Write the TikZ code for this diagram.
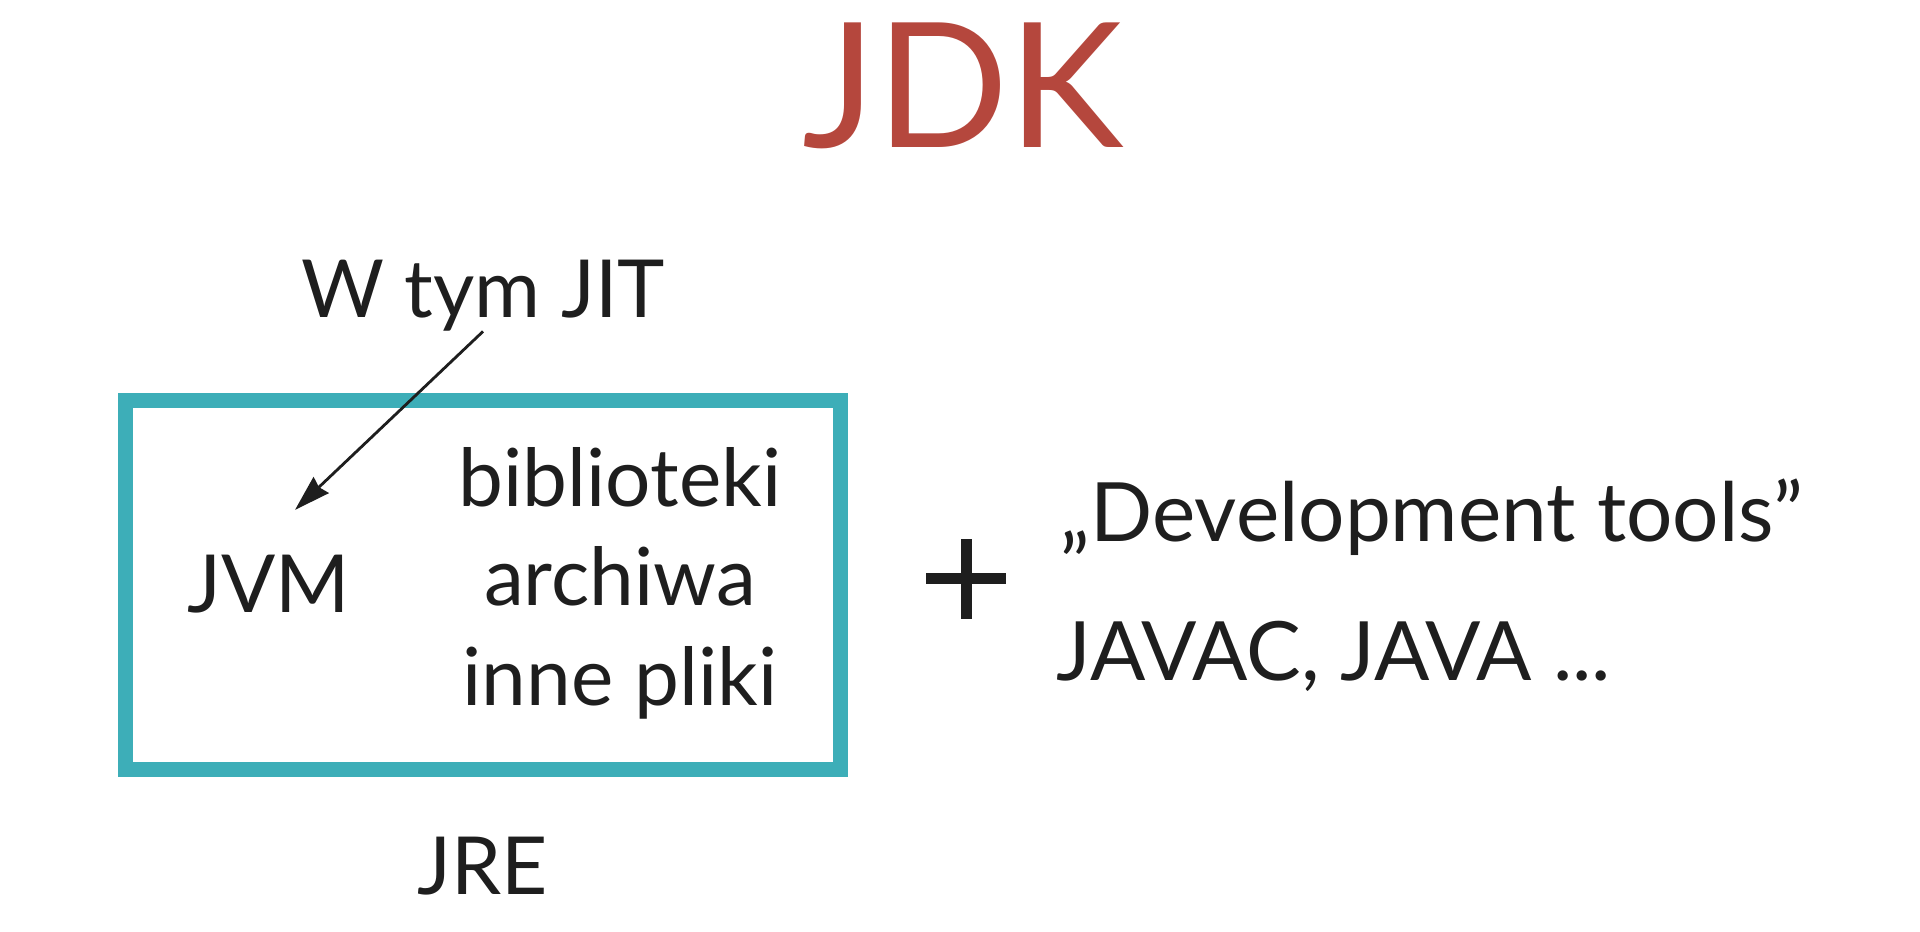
\documentclass[tikz,border=0pt]{standalone}
\usepackage{fontspec}
\setmainfont{Lato}
\usepackage{xcolor}
\usetikzlibrary{arrows.meta, positioning}
\definecolor{jdkred}{RGB}{181,71,61}
\definecolor{jreteal}{RGB}{61,174,184}
\definecolor{ink}{RGB}{30,30,30}
\tikzset{
  lbl/.style={font=\fontsize{22.8}{27}\selectfont, text=ink, inner sep=0pt},
  tool/.style={font=\fontsize{23.3}{27}\selectfont, text=ink, inner sep=0pt},
  ttl/.style={font=\fontsize{49.5}{56}\selectfont, text=jdkred, inner sep=0pt},
  box/.style={rectangle, draw=jreteal, line width=0.15cm, minimum width=7.15cm, minimum height=3.69cm},
  arr/.style={-{Stealth[length=0.36cm, width=0.22cm, inset=0.03cm]}, line width=0.8pt, draw=ink},
  pl/.style={line width=0.11cm, draw=ink},
}

\begin{document}
\begin{tikzpicture}
\useasboundingbox (0,0) rectangle (19.2,9.31);
% Tytul
\node[ttl, anchor=base] (jdk) at (9.63,7.84) {JDK};

% JRE
\node[box] (jrebox) at (4.825,3.465) {};
\node[lbl, anchor=base] (jvm) at (2.69,3.19) {JVM};
\node[lbl, anchor=base] (lib1) at (6.20,4.25) {biblioteki};
\node[lbl, anchor=base] (lib2) at (6.20,3.26) {archiwa};
\node[lbl, anchor=base] (lib3) at (6.20,2.26) {inne pliki};
\node[lbl, anchor=base] (jre) at (4.83,0.37) {JRE};

% JIT
\node[lbl, anchor=base] (jit) at (4.83,6.14) {W tym JIT};
\draw[arr] (jit.south) -- ([xshift=0.26cm, yshift=0.44cm]jvm.north);

% Plus i narzedzia
\coordinate (plus) at (9.66,3.525);
\draw[pl] ([xshift=-0.4cm]plus) -- ([xshift=0.4cm]plus);
\draw[pl] ([yshift=-0.4cm]plus) -- ([yshift=0.4cm]plus);
\node[tool, anchor=base west] (dev) at (10.60,3.90) {„Development tools”};
\node[tool, anchor=base west] (javac) at (10.56,2.51) {JAVAC, JAVA ...};

\end{tikzpicture}
\end{document}
